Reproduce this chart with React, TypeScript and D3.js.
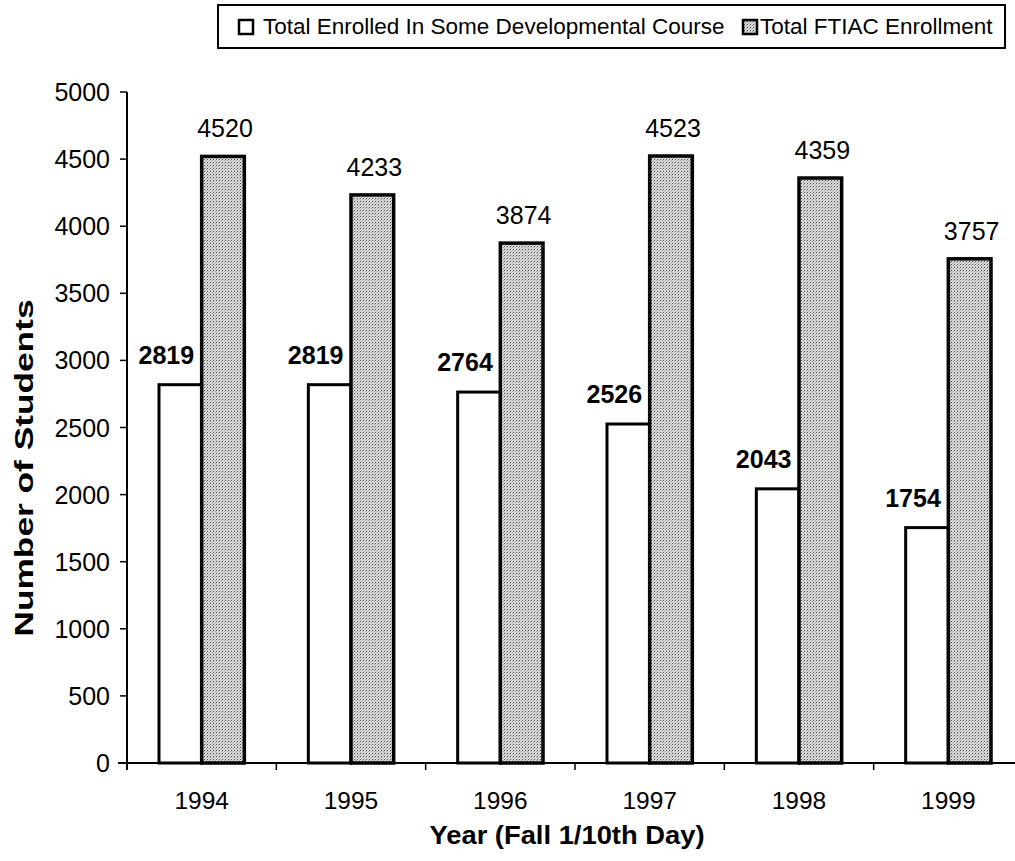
import React from "react";
import * as d3 from "d3";

const years = ["1994", "1995", "1996", "1997", "1998", "1999"];
const seriesNames = ["Total Enrolled In Some Developmental Course", "Total FTIAC Enrollment"];
const developmental = [2819, 2819, 2764, 2526, 2043, 1754];
const ftiac = [4520, 4233, 3874, 4523, 4359, 3757];
const yTicks = [0, 500, 1000, 1500, 2000, 2500, 3000, 3500, 4000, 4500, 5000];

const W = 1015;
const H = 861;
const FONT = "'Liberation Sans', Arial, Helvetica, sans-serif";

export default function App() {
  const x0 = d3.scaleBand<string>().domain(years).range([127, 1023]).padding(0);
  const x1 = d3
    .scaleBand<string>()
    .domain(["dev", "ftiac"])
    .range([0, x0.bandwidth()])
    .paddingInner(0)
    .paddingOuter(0.75);
  const y = d3.scaleLinear().domain([0, 5000]).range([763, 92]);
  const bw = x1.bandwidth();

  const boundaries = years.slice(1).map((yr) => x0(yr) as number);

  return (
    <svg
      width={W}
      height={H}
      viewBox={`0 0 ${W} ${H}`}
      style={{ position: "absolute", left: 0, top: 0, background: "#fff" }}
      fontFamily={FONT}
    >
      <defs>
        <pattern id="stipple" width="3" height="3" patternUnits="userSpaceOnUse">
          <rect width="3" height="3" fill="#dedede" />
          <rect x="0" y="0" width="1" height="1" fill="#444" />
          <rect x="2" y="1" width="1" height="1" fill="#9a9a9a" />
          <rect x="1" y="2" width="1" height="1" fill="#b4b4b4" />
        </pattern>
      </defs>
      <rect x={0} y={0} width={W} height={H} fill="#fff" />

      {/* Legend */}
      <rect x={218} y={5} width={787} height={43} fill="#fff" stroke="#000" strokeWidth={2} />
      <rect x={239} y={20} width={14} height={14} fill="#fff" stroke="#000" strokeWidth={2.5} />
      <text x={263} y={34} fontSize={22.5} fill="#000">{seriesNames[0]}</text>
      <rect x={743} y={20} width={14} height={14} fill="url(#stipple)" stroke="#000" strokeWidth={2.5} />
      <text x={760} y={34} fontSize={22.5} fill="#000">{seriesNames[1]}</text>

      {/* Bars */}
      {years.map((yr, i) => {
        const bx = x0(yr) as number;
        const xd = bx + (x1("dev") as number);
        const xf = bx + (x1("ftiac") as number);
        return (
          <g key={yr}>
            <rect
              x={xd}
              y={y(developmental[i])}
              width={bw}
              height={y(0) - y(developmental[i])}
              fill="#fff"
              stroke="#000"
              strokeWidth={3}
            />
            <rect
              x={xf}
              y={y(ftiac[i])}
              width={bw}
              height={y(0) - y(ftiac[i])}
              fill="url(#stipple)"
              stroke="#000"
              strokeWidth={3.5}
            />
            <text
              x={xd + bw / 2 - 14}
              y={y(developmental[i]) - 21}
              fontSize={25}
              fontWeight="bold"
              textAnchor="middle"
              fill="#000"
            >
              {developmental[i]}
            </text>
            <text
              x={xf + bw / 2 + 2}
              y={y(ftiac[i]) - 19}
              fontSize={25}
              textAnchor="middle"
              fill="#000"
            >
              {ftiac[i]}
            </text>
          </g>
        );
      })}

      {/* Y axis */}
      <line x1={127} x2={127} y1={92} y2={770} stroke="#000" strokeWidth={2} />
      {yTicks.map((t) => (
        <g key={t}>
          <line x1={120} x2={127} y1={y(t)} y2={y(t)} stroke="#000" strokeWidth={1.5} />
          <text x={110} y={y(t)} dy="0.36em" fontSize={25} textAnchor="end" fill="#000">
            {t}
          </text>
        </g>
      ))}

      {/* X axis */}
      <line x1={118} x2={1015} y1={y(0)} y2={y(0)} stroke="#000" strokeWidth={2} />
      {boundaries.map((bx, i) => (
        <line key={i} x1={bx} x2={bx} y1={y(0)} y2={y(0) + 7} stroke="#000" strokeWidth={1.5} />
      ))}
      {years.map((yr) => (
        <text
          key={yr}
          x={(x0(yr) as number) + x0.bandwidth() / 2}
          y={809}
          fontSize={24.5}
          textAnchor="middle"
          fill="#000"
        >
          {yr}
        </text>
      ))}

      {/* Axis titles */}
      <text
        x={567}
        y={844}
        fontSize={25}
        fontWeight="bold"
        textAnchor="middle"
        textLength={275}
        lengthAdjust="spacingAndGlyphs"
        fill="#000"
      >
        Year (Fall 1/10th Day)
      </text>
      <text
        transform="translate(33,468) rotate(-90)"
        fontSize={26}
        fontWeight="bold"
        textAnchor="middle"
        textLength={337}
        lengthAdjust="spacingAndGlyphs"
        fill="#000"
      >
        Number of Students
      </text>
    </svg>
  );
}
